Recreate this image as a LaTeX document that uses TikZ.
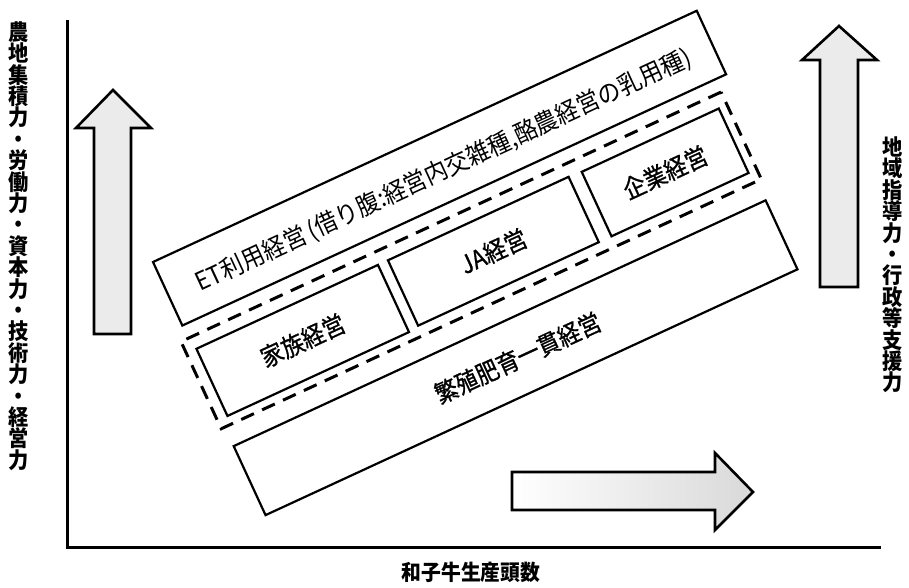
\documentclass[tikz,border=0pt]{standalone}
\usepackage{fontspec}
\setmainfont{Noto Sans CJK JP}
\newfontfamily\gothR{Noto Sans CJK JP}[FakeStretch=0.92]
\newfontfamily\gothM{Noto Sans CJK JP}[FakeStretch=0.9, FakeBold=0.8]
\newfontfamily\gothB{Noto Sans CJK JP}[FakeStretch=0.92]
\begin{document}
\begin{tikzpicture}[x=1pt,y=-1pt,
  box/.style={draw, line width=2.2pt, rectangle, inner sep=0pt, transform shape},
  dashbox/.style={draw, line width=3pt, dash pattern=on 14pt off 9pt, rectangle, inner sep=0pt, transform shape},
  boxtext/.style={font=\gothM\fontsize{25}{27}\selectfont},
  ettext/.style={font=\gothR\fontsize{25}{27}\selectfont},
  fatarrow/.style={draw, line width=2.6pt, line join=miter},
  vlabel/.style={align=center, inner sep=0pt, font=\gothB\bfseries\fontsize{22}{21.4}\selectfont}]
\useasboundingbox (0,0) rectangle (909,588);
% axes
\coordinate (origin) at (67,547);
\coordinate (ytop) at (67,20);
\coordinate (xend) at (881,547);
\draw[line width=3pt] (ytop) -- (origin) -- (xend);
% axis labels
\node[vlabel] (ylab) at (19,246) {農\\地\\集\\積\\力\\・\\労\\働\\力\\・\\資\\本\\力\\・\\技\\術\\力\\・\\経\\営\\力};
\node[vlabel] (rlab) at (893,265) {地\\域\\指\\導\\力\\・\\行\\政\\等\\支\\援\\力};
\node[inner sep=0pt, font=\gothB\bfseries\fontsize{21.5}{23}\selectfont] (xlab) at (471,572) {和子牛生産頭数};
% fat arrows
\draw[fatarrow, fill=black!8] (94,334) -- (94,128) -- (76,128) -- (113,90) -- (151,128) -- (131,128) -- (131,334) -- cycle;
\draw[fatarrow, fill=black!8] (820,287) -- (820,60) -- (802,60) -- (839,26) -- (877,60) -- (858,60) -- (858,287) -- cycle;
\draw[fatarrow, left color=white, right color=black!15] (512,472) -- (715,472) -- (715,453) -- (753,492) -- (715,530) -- (715,510) -- (512,510) -- cycle;
% rotated band of boxes
\begin{scope}[shift={(153,262)}, rotate=24.8]
  \node[box, minimum width=599pt, minimum height=70pt] (et) at (299.5,35) {};
  \node[ettext, transform shape] (ettxt) at (302,39) {ET利用経営\kern4pt(借り腹:経営内交雑種,酪農経営の乳用種)};
  \node[dashbox, minimum width=595pt, minimum height=96pt] (group) at (289.5,132) {};
  \node[box, boxtext, minimum width=200pt, minimum height=74pt] (kazoku) at (103,134) {家族経営};
  \node[box, boxtext, minimum width=199pt, minimum height=72pt] (ja) at (313.5,133) {JA経営};
  \node[box, boxtext, minimum width=151pt, minimum height=71pt] (kigyo) at (502.5,133.5) {企業経営};
  \node[box, minimum width=586pt, minimum height=76pt] (hanshoku) at (289,239) {};
  \node[boxtext, transform shape] (hantxt) at (291,240) {繁殖肥育一貫経営};
\end{scope}
\end{tikzpicture}
\end{document}
